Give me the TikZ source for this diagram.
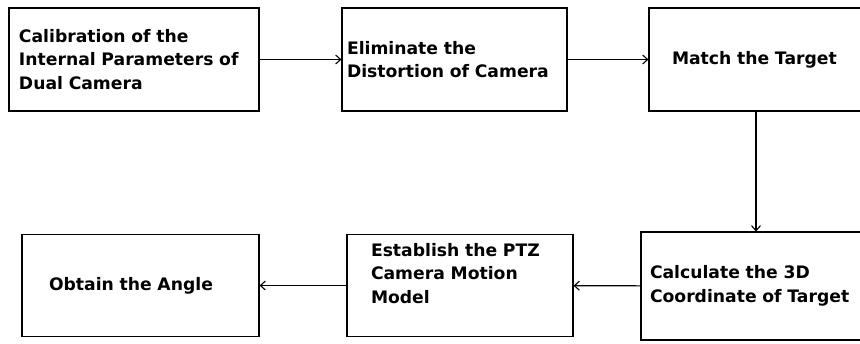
\documentclass[tikz,border=0pt]{standalone}
\usepackage{fontspec}
\setmainfont{DejaVu Sans}
\usetikzlibrary{arrows.meta}

\begin{document}
\begin{tikzpicture}[x=1pt,y=-1pt,->,>={Straight Barb[length=5pt,width=9pt]},line width=1.1pt,
  box node/.style={draw,rectangle,align=left,minimum height=103pt,
    font=\bfseries\fontsize{17.2}{23.5}\selectfont}]
  \useasboundingbox (0,0) rectangle (860,343);

  \node[box node,minimum width=250pt,text width=230pt,inner xsep=10pt] (calib) at (134,59.5)
    {Calibration of the\\Internal Parameters of\\Dual Camera};
  \node[box node,minimum width=225pt,text width=215pt,inner xsep=5pt] (elim) at (454.5,59.5)
    {Eliminate the\\Distortion of Camera};
  \node[box node,minimum width=214pt,text width=168pt,inner xsep=23pt] (match) at (756,59.5)
    {Match the Target};
  \node[box node,minimum width=230pt,minimum height=108pt,text width=212pt,inner xsep=9pt] (calc) at (756,286)
    {Calculate the 3D\\Coordinate of Target};
  \node[box node,minimum width=226pt,minimum height=102pt,text width=178pt,inner xsep=24pt,text depth=72pt] (estab) at (460,285.5)
    {Establish the PTZ\\Camera Motion\\Model};
  \node[box node,minimum width=237pt,minimum height=102pt,text width=183pt,inner xsep=27pt] (obtain) at (140.5,285.5)
    {Obtain the Angle};

  \path
    (calib) edge (elim)
    (elim) edge (match)
    (match) edge (calc)
    (calc) edge (estab)
    (estab) edge (obtain)
    ;
\end{tikzpicture}
\end{document}
